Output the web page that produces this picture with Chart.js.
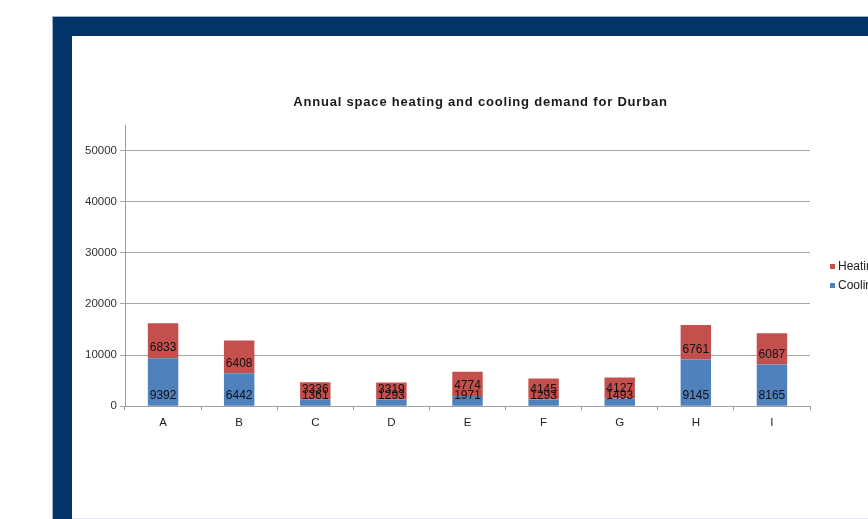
<!DOCTYPE html>
<html>
<head>
<meta charset="utf-8">
<script src="https://cdn.jsdelivr.net/npm/chart.js@4.4.1/dist/chart.umd.min.js"></script>
<style>
    html, body { margin: 0; padding: 0; width: 868px; height: 519px; overflow: hidden; background: #fff; }
    .frame {
        position: absolute; left: 53px; top: 17px; width: 900px; height: 520px;
        background: #023468; box-shadow: 0 0 0 1px #9fb2c8;
    }
    .inner {
        position: absolute; left: 19px; top: 19px; width: 881px; height: 482px;
        background: #fff; border-bottom: 1px solid #e3e8ee;
    }
    #chartWrap { position: absolute; left: 0; top: 0; width: 796px; height: 483px; }
</style>
</head>
<body>
<div class="frame">
    <div class="inner">
        <div id="chartWrap"><canvas id="demandChart"></canvas></div>
    </div>
</div>
<script>
const sites = ['A', 'B', 'C', 'D', 'E', 'F', 'G', 'H', 'I'];
const cooling = [9392, 6442, 1361, 1293, 1971, 1293, 1493, 9145, 8165];
const heating = [6833, 6408, 3336, 3319, 4774, 4145, 4127, 6761, 6087];
const yTicks = [0, 10000, 20000, 30000, 40000, 50000];
const chartTitle = 'Annual space heating and cooling demand for Durban';

const RED = '#c4504e';
const BLUE = '#4f81bd';
const FONT = 'Arial, "Liberation Sans", sans-serif';

// spaced-out bold heading above the plot
const wideTitle = {
    id: 'wideTitle',
    afterDraw(chart) {
        const ctx = chart.ctx;
        const area = chart.chartArea;
        ctx.save();
        ctx.font = 'bold 13px ' + FONT;
        ctx.letterSpacing = '0.8px';
        ctx.fillStyle = '#1a1a1a';
        ctx.textAlign = 'center';
        ctx.textBaseline = 'middle';
        ctx.fillText(chartTitle, (area.left + area.right) / 2 + 13, 66);
        ctx.restore();
    }
};

// value labels sit just above the base of each stacked segment
const baseLabels = {
    id: 'baseLabels',
    afterDatasetsDraw(chart) {
        const ctx = chart.ctx;
        ctx.save();
        ctx.font = '12px ' + FONT;
        ctx.fillStyle = '#111';
        ctx.textAlign = 'center';
        ctx.textBaseline = 'middle';
        chart.data.datasets.forEach((ds, i) => {
            chart.getDatasetMeta(i).data.forEach((bar, j) => {
                ctx.fillText(String(ds.data[j]), bar.x, bar.base - 10);
            });
        });
        ctx.restore();
    }
};

// small legend to the right of the plot, heating listed first
const sideLegend = {
    id: 'sideLegend',
    afterDraw(chart) {
        const ctx = chart.ctx;
        const x = chart.chartArea.right + 20;
        let y = 231;
        ctx.save();
        ctx.font = '12px ' + FONT;
        ctx.textBaseline = 'middle';
        chart.data.datasets.slice().reverse().forEach(ds => {
            ctx.fillStyle = ds.backgroundColor;
            ctx.fillRect(x, y - 3, 5, 5);
            ctx.fillStyle = '#222';
            ctx.fillText(ds.label, x + 8, y);
            y += 19;
        });
        ctx.restore();
    }
};

new Chart(document.getElementById('demandChart'), {
    type: 'bar',
    data: {
        labels: sites,
        datasets: [
            { label: 'Cooling', data: cooling, backgroundColor: BLUE },
            { label: 'Heating', data: heating, backgroundColor: RED }
        ]
    },
    options: {
        responsive: true,
        maintainAspectRatio: false,
        animation: false,
        layout: { padding: { left: 0, right: 58, top: 89, bottom: 83 } },
        datasets: { bar: { categoryPercentage: 1, barPercentage: 0.4 } },
        plugins: {
            legend: { display: false },
            tooltip: { enabled: false },
            title: { display: false }
        },
        scales: {
            x: {
                stacked: true,
                grid: {
                    drawOnChartArea: false,
                    drawTicks: true,
                    tickLength: 4,
                    tickColor: '#999'
                },
                border: { color: '#a0a0a0', width: 1 },
                ticks: {
                    color: '#222',
                    padding: 6,
                    font: { family: FONT, size: 11.5 }
                }
            },
            y: {
                stacked: true,
                min: 0,
                max: 55000,
                afterFit(scale) { scale.width = 53; },
                afterBuildTicks(scale) { scale.ticks = yTicks.map(v => ({ value: v })); },
                grid: {
                    color: '#a8a8a8',
                    tickLength: 5,
                    tickColor: '#a8a8a8'
                },
                border: { color: '#a0a0a0', width: 1 },
                ticks: {
                    color: '#333',
                    padding: 3,
                    font: { family: FONT, size: 11.5 },
                    callback: v => String(v)
                }
            }
        }
    },
    plugins: [baseLabels, sideLegend, wideTitle]
});
</script>
</body>
</html>
